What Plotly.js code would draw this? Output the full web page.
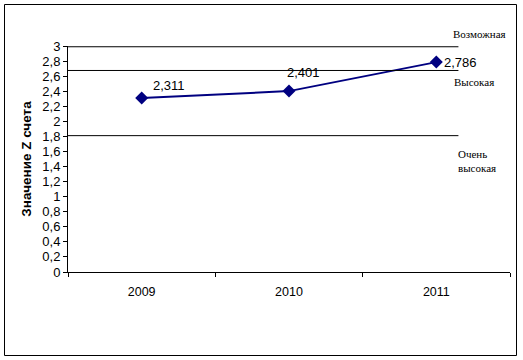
<!DOCTYPE html>
<html>
<head>
<meta charset="utf-8">
<script src="https://cdn.plot.ly/plotly-3.0.1.min.js"></script>
<style>
html,body{margin:0;padding:0;background:#fff;}
#chart{width:523px;height:360px;}
</style>
</head>
<body>
<div id="chart"></div>
<script>
var years = ['2009', '2010', '2011'];
var zValues = [2.311, 2.401, 2.786];
var zLabels = ['2,311', '2,401', '2,786'];
var thresholds = [2.99, 2.675, 1.81];
var zoneLabels = ['Возможная', 'Высокая', 'Очень<br>высокая'];
var yTitle = 'Значение Z счета';

var trace = {
  x: years,
  y: zValues,
  type: 'scatter',
  mode: 'lines+markers',
  line: {color: '#000080', width: 2},
  marker: {symbol: 'diamond', size: 10, color: '#000080'},
  cliponaxis: false,
  hoverinfo: 'none'
};

var shapes = thresholds.map(function (t) {
  return {type: 'line', xref: 'x', yref: 'y', x0: -0.5, x1: 2.15, y0: t, y1: t,
          line: {color: '#000', width: 1}};
});
// outer frame
shapes.push({type: 'rect', xref: 'paper', yref: 'paper',
  x0: (4.5 - 68) / 442, x1: (516.5 - 68) / 442,
  y0: (272 - 355.5) / 226, y1: (272 - 4.5) / 226,
  line: {color: '#000', width: 1}, fillcolor: 'rgba(0,0,0,0)'});

var labelPos = [
  {x: 451, y: 34},
  {x: 452, y: 82},
  {x: 456, y: 161}
];
var annotations = zoneLabels.map(function (lab, i) {
  return {text: lab, xref: 'paper', yref: 'paper',
    x: (labelPos[i].x - 68) / 442, y: (272 - labelPos[i].y) / 226,
    xanchor: 'left', yanchor: 'middle', align: 'left', showarrow: false,
    font: {family: 'Liberation Serif, serif', size: 11, color: '#000'}};
});

var labelShift = [
  {xs: 9, ys: 3, ya: 'bottom'},
  {xs: -4, ys: 9, ya: 'bottom'},
  {xs: 6, ys: 0, ya: 'middle'}
];
zValues.forEach(function (v, i) {
  annotations.push({text: zLabels[i], xref: 'x', yref: 'y', x: i, y: v,
    xanchor: 'left', yanchor: labelShift[i].ya,
    xshift: labelShift[i].xs, yshift: labelShift[i].ys, showarrow: false,
    font: {family: 'Liberation Sans, Arial, sans-serif', size: 13, color: '#000'}});
});

var layout = {
  width: 523, height: 360,
  margin: {l: 68, r: 13, t: 46, b: 88},
  paper_bgcolor: '#fff', plot_bgcolor: '#fff',
  separators: ', ',
  showlegend: false,
  font: {family: 'Liberation Sans, Arial, sans-serif', size: 13, color: '#000'},
  xaxis: {
    type: 'category', range: [-0.5, 2.5], fixedrange: true,
    showline: true, linecolor: '#000', linewidth: 1,
    showgrid: false, zeroline: false,
    ticks: 'outside', tickson: 'boundaries', ticklen: 4, tickcolor: '#000',
    ticklabelstandoff: 8,
    tickfont: {size: 12.5}
  },
  yaxis: {
    range: [0, 3], dtick: 0.2, tick0: 0, fixedrange: true,
    showline: true, linecolor: '#000', linewidth: 1,
    showgrid: false, zeroline: false,
    ticks: 'outside', ticklen: 4, tickcolor: '#000',
    tickfont: {size: 13},
    title: {text: yTitle, font: {size: 13.5, family: 'Liberation Sans, Arial, sans-serif', weight: 'bold'}, standoff: 7}
  },
  shapes: shapes,
  annotations: annotations
};

Plotly.newPlot('chart', [trace], layout, {staticPlot: true, displayModeBar: false});
</script>
</body>
</html>
